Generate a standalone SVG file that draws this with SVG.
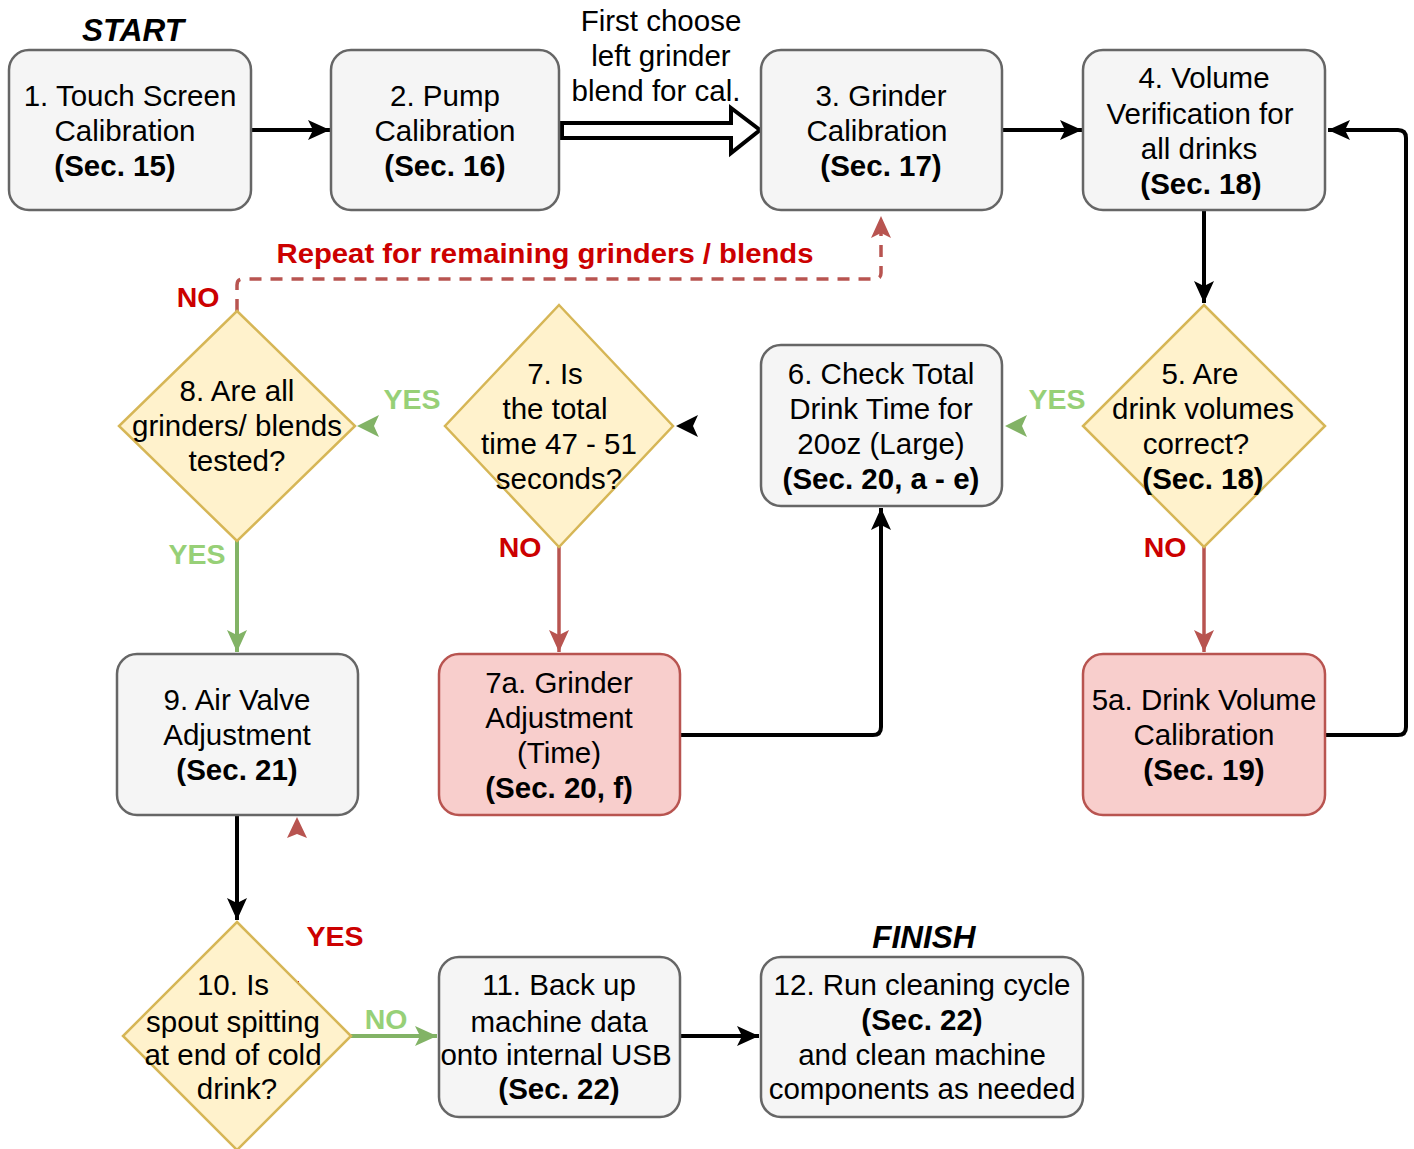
<svg xmlns="http://www.w3.org/2000/svg" width="1414" height="1149" viewBox="0 0 1414 1149">
<style>
text{font-family:"Liberation Sans",Arial,sans-serif;font-size:29.5px;fill:#000;text-anchor:middle}
.b{font-weight:bold}
.t{font-weight:bold;font-style:italic;font-size:31.5px}
.red{fill:#CC0000;font-weight:bold;font-size:28.5px}
.grn{fill:#97D077;font-weight:bold;font-size:28.5px}
.box{fill:#f5f5f5;stroke:#666666;stroke-width:2.5}
.pink{fill:#f8cecc;stroke:#b85450;stroke-width:2.5}
.dia{fill:#fff2cc;stroke:#d6b656;stroke-width:2.5}
.k{fill:none;stroke:#000;stroke-width:4}
.r{fill:none;stroke:#b85450;stroke-width:3.5}
.g{fill:none;stroke:#82b366;stroke-width:4}
</style>
<defs>
<marker id="ak" markerUnits="userSpaceOnUse" viewBox="0 0 22 20" markerWidth="22" markerHeight="20" refX="22" refY="10" orient="auto"><path d="M0,0 L22,10 L0,20 L5,10 Z" fill="#000"/></marker>
<marker id="ar" markerUnits="userSpaceOnUse" viewBox="0 0 22 20" markerWidth="22" markerHeight="20" refX="22" refY="10" orient="auto"><path d="M0,0 L22,10 L0,20 L5,10 Z" fill="#b85450"/></marker>
<marker id="ag" markerUnits="userSpaceOnUse" viewBox="0 0 22 20" markerWidth="22" markerHeight="20" refX="22" refY="10" orient="auto"><path d="M0,0 L22,10 L0,20 L5,10 Z" fill="#82b366"/></marker>
</defs>
<rect width="1414" height="1149" fill="#fff"/>

<g id="connectors">
<path class="k" d="M251,130 H330" marker-end="url(#ak)"/>
<polygon points="562,123 731,123 731,108 760,130 731,153 731,138 562,138" fill="#fff" stroke="#000" stroke-width="4" stroke-linejoin="miter"/>
<path class="k" d="M1003,130 H1082" marker-end="url(#ak)"/>
<path class="k" d="M1204,211 V303" marker-end="url(#ak)"/>
<polygon points="1027,415 1005,426 1027,437 1022,426" fill="#82b366"/>
<polygon points="698,415 676,426 698,437 693,426" fill="#000"/>
<polygon points="379,415 357,426 379,437 374,426" fill="#82b366"/>
<path class="r" d="M237,311 V285 Q237,279 243,279 H875 Q881,279 881,273 V216" stroke-dasharray="12 9" stroke-width="4" marker-end="url(#ar)"/>
<path class="r" d="M559,547 V652" marker-end="url(#ar)"/>
<path class="r" d="M1204,547 V652" marker-end="url(#ar)"/>
<path class="k" d="M680,735 H873 Q881,735 881,727 V508" marker-end="url(#ak)"/>
<path class="k" d="M1325,735 H1398 Q1406,735 1406,727 V138 Q1406,130 1398,130 H1328" marker-end="url(#ak)"/>
<path class="g" d="M237,541 V652" marker-end="url(#ag)"/>
<path class="k" d="M237,815 V920" marker-end="url(#ak)"/>
<polygon points="297,817 287,838 297,834 307,838" fill="#b85450"/>
<line x1="298.5" y1="981" x2="298.5" y2="986" stroke="#cc0000" stroke-width="1"/>
<path class="g" d="M351,1036 H437" marker-end="url(#ag)"/>
<path class="k" d="M680,1036 H759" marker-end="url(#ak)"/>
</g>

<g id="labels">
<text class="t" x="133" y="41">START</text>
<text class="t" x="924" y="948">FINISH</text>
<text x="661" y="31">First choose</text>
<text x="661" y="66">left grinder</text>
<text x="656" y="101">blend for cal.</text>
<text class="red" x="545" y="263" textLength="537" lengthAdjust="spacingAndGlyphs">Repeat for remaining grinders / blends</text>
<text class="red" x="198" y="307">NO</text>
<text class="grn" x="1057" y="409">YES</text>
<text class="grn" x="412" y="409">YES</text>
<text class="red" x="520" y="557">NO</text>
<text class="red" x="1165" y="557">NO</text>
<text class="grn" x="197" y="564">YES</text>
<text class="red" x="335" y="946">YES</text>
<text class="grn" x="386" y="1029">NO</text>
</g>

<g id="n1"><rect class="box" x="9" y="50" width="242" height="160" rx="20"/>
<text x="130" y="106">1. Touch Screen</text><text x="125" y="141">Calibration</text><text class="b" x="115" y="176">(Sec. 15)</text></g>
<g id="n2"><rect class="box" x="331" y="50" width="228" height="160" rx="20"/>
<text x="445" y="106">2. Pump</text><text x="445" y="141">Calibration</text><text class="b" x="445" y="176">(Sec. 16)</text></g>
<g id="n3"><rect class="box" x="761" y="50" width="241" height="160" rx="20"/>
<text x="881" y="106">3. Grinder</text><text x="877" y="141">Calibration</text><text class="b" x="881" y="176">(Sec. 17)</text></g>
<g id="n4"><rect class="box" x="1083" y="50" width="242" height="160" rx="20"/>
<text x="1204" y="88">4. Volume</text><text x="1200" y="124">Verification for</text><text x="1199" y="159">all drinks</text><text class="b" x="1201" y="194">(Sec. 18)</text></g>
<g id="n5"><polygon class="dia" points="1204,305 1325,426 1204,547 1083,426"/>
<text x="1200" y="384">5. Are</text><text x="1203" y="419">drink volumes</text><text x="1196" y="454">correct?</text><text class="b" x="1203" y="489">(Sec. 18)</text></g>
<g id="n6"><rect class="box" x="761" y="345" width="241" height="161" rx="20"/>
<text x="881" y="384">6. Check Total</text><text x="881" y="419">Drink Time for</text><text x="881" y="454">20oz (Large)</text><text class="b" x="881" y="489">(Sec. 20, a - e)</text></g>
<g id="n7"><polygon class="dia" points="559,305 673,426 559,547 445,426"/>
<text x="555" y="384">7. Is</text><text x="555" y="419">the total</text><text x="559" y="454">time 47 - 51</text><text x="559" y="489">seconds?</text></g>
<g id="n8"><polygon class="dia" points="237,311 355,426 237,541 119,426"/>
<text x="237" y="401">8. Are all</text><text x="237" y="436">grinders/ blends</text><text x="237" y="471">tested?</text></g>
<g id="n7a"><rect class="pink" x="439" y="654" width="241" height="161" rx="20"/>
<text x="559" y="693">7a. Grinder</text><text x="559" y="728">Adjustment</text><text x="559" y="763">(Time)</text><text class="b" x="559" y="798">(Sec. 20, f)</text></g>
<g id="n5a"><rect class="pink" x="1083" y="654" width="242" height="161" rx="20"/>
<text x="1204" y="710">5a. Drink Volume</text><text x="1204" y="745">Calibration</text><text class="b" x="1204" y="780">(Sec. 19)</text></g>
<g id="n9"><rect class="box" x="117" y="654" width="241" height="161" rx="20"/>
<text x="237" y="710">9. Air Valve</text><text x="237" y="745">Adjustment</text><text class="b" x="237" y="780">(Sec. 21)</text></g>
<g id="n10"><polygon class="dia" points="237,922 351,1036 237,1150 123,1036"/>
<text x="233" y="995">10. Is</text><text x="233" y="1032">spout spitting</text><text x="233" y="1065">at end of cold</text><text x="237" y="1099">drink?</text></g>
<g id="n11"><rect class="box" x="439" y="957" width="241" height="160" rx="20"/>
<text x="559" y="995">11. Back up</text><text x="559" y="1032">machine data</text><text x="556" y="1065">onto internal USB</text><text class="b" x="559" y="1099">(Sec. 22)</text></g>
<g id="n12"><rect class="box" x="761" y="957" width="322" height="160" rx="20"/>
<text x="922" y="995">12. Run cleaning cycle</text><text class="b" x="922" y="1030">(Sec. 22)</text><text x="922" y="1065">and clean machine</text><text x="922" y="1099">components as needed</text></g>
</svg>
